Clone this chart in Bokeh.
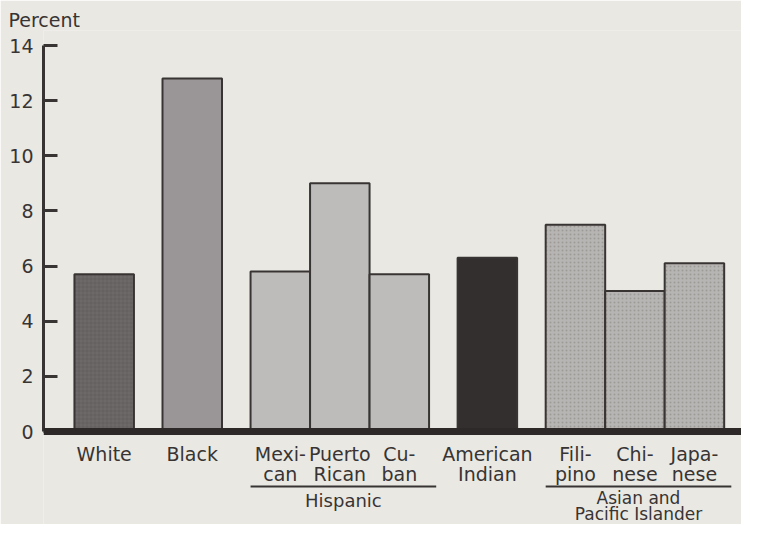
from bokeh.plotting import figure
from bokeh.models import ColumnDataSource, Span, FixedTicker, Range1d
from bokeh.core.properties import value
from bokeh.embed import file_html
from bokeh.resources import INLINE

# ---- data ----
categories = ["White", "Black", "Mexican", "Puerto Rican", "Cuban",
              "American Indian", "Filipino", "Chinese", "Japanese"]
line1 = ["White", "Black", "Mexi-", "Puerto", "Cu-", "American", "Fili-", "Chi-", "Japa-"]
line2 = ["", "", "can", "Rican", "ban", "Indian", "pino", "nese", "nese"]
groups = ["White", "Black", "Hispanic", "Hispanic", "Hispanic",
          "American Indian", "Asian and Pacific Islander",
          "Asian and Pacific Islander", "Asian and Pacific Islander"]
values = [5.7, 12.8, 5.8, 9.0, 5.7, 6.3, 7.5, 5.1, 6.1]
y_ticks = [0, 2, 4, 6, 8, 10, 12, 14]

# ---- styles ----
BG = "#e9e8e3"
INK = "#383433"
FONT = "DejaVu Sans"
fills = {"White": "#6d6968", "Black": "#9a9697", "Hispanic": "#bebcbb",
         "American Indian": "#332f2e", "Asian and Pacific Islander": "#b7b5b3"}
hatches = {"White": "cross", "Black": " ", "Hispanic": " ",
           "American Indian": " ", "Asian and Pacific Islander": "dot"}

# ---- layout of bars: bars in a group touch, groups separated by a gap ----
left_margin, gap, width = 0.52, 0.48, 1.0
xs = []
pos = left_margin
prev = None
for g in groups:
    if prev is not None and g != prev:
        pos += gap
    xs.append(pos + width / 2)
    pos += width
    prev = g

W, H = 741, 524
frame_left = 43
frame_top = 30
px_per_unit_y = 27.57
zero_px = 431
y_end = (zero_px - frame_top) / px_per_unit_y
y_start = -(H - zero_px) / px_per_unit_y
px_per_unit_x = 59.5
x_end = (W - frame_left) / px_per_unit_x

p = figure(width=W, height=H, output_backend="svg", toolbar_location=None,
           x_range=Range1d(0, x_end), y_range=Range1d(y_start, y_end),
           min_border_left=frame_left, min_border_right=0,
           min_border_top=frame_top, min_border_bottom=0,
           background_fill_color=BG, border_fill_color=BG, outline_line_color=None,
           title="Percent")
p.title.text_font = FONT
p.title.text_font_size = "19px"
p.title.text_font_style = "normal"
p.title.text_color = INK
p.title.align = "left"
p.title.offset = -35
p.title.standoff = 0

p.xaxis.visible = False
p.xgrid.visible = False
p.ygrid.visible = False

yax = p.yaxis[0]
yax.ticker = FixedTicker(ticks=y_ticks)
yax.bounds = (0, 14)
yax.axis_line_width = 3
yax.axis_line_color = INK
yax.major_tick_in = 14
yax.major_tick_out = 0
yax.major_tick_line_width = 3
yax.major_tick_line_color = INK
yax.minor_tick_line_color = None
yax.major_label_text_font = FONT
yax.major_label_text_font_size = "19px"
yax.major_label_text_color = INK
yax.major_label_standoff = 10

src = ColumnDataSource(dict(
    x=xs, top=values, cat=categories,
    fill=[fills[g] for g in groups],
    hatch=[hatches[g] for g in groups],
))
p.vbar(x="x", top="top", bottom=0, width=width, source=src,
       fill_color="fill", line_color=INK, line_width=2,
       hatch_pattern="hatch", hatch_color="#4a4645", hatch_alpha=0.25,
       hatch_scale=4, hatch_weight=1)

# baseline band
p.add_layout(Span(location=0, dimension="width", line_color="#2c2928", line_width=7))

# category labels
def ydata(fig_px):
    return (zero_px - fig_px) / px_per_unit_y

p.text(x=xs, y=[ydata(453)] * len(xs), text=line1, text_align="center",
       text_baseline="middle", text_font=value(FONT), text_font_size="19px",
       text_color=INK)
p.text(x=xs, y=[ydata(473)] * len(xs), text=line2, text_align="center",
       text_baseline="middle", text_font=value(FONT), text_font_size="19px",
       text_color=INK)

# group underlines and group names
group_names = {"Hispanic": ["Hispanic"],
               "Asian and Pacific Islander": ["Asian and", "Pacific Islander"]}
for gname, lines in group_names.items():
    idx = [i for i, g in enumerate(groups) if g == gname]
    gl = xs[idx[0]] - width / 2
    gr = xs[idx[-1]] + width / 2 + 0.12
    p.line([gl, gr], [ydata(486)] * 2, line_color=INK, line_width=2)
    cx = (gl + gr) / 2
    if len(lines) == 1:
        p.text(x=[cx], y=[ydata(500)], text=lines, text_align="center",
               text_baseline="middle", text_font=value(FONT),
               text_font_size="18px", text_color=INK)
    else:
        p.text(x=[cx, cx], y=[ydata(497), ydata(513)], text=lines,
               text_align="center", text_baseline="middle",
               text_font=value(FONT), text_font_size="17px", text_color=INK)

open("out.html", "w").write(file_html(p, INLINE))
